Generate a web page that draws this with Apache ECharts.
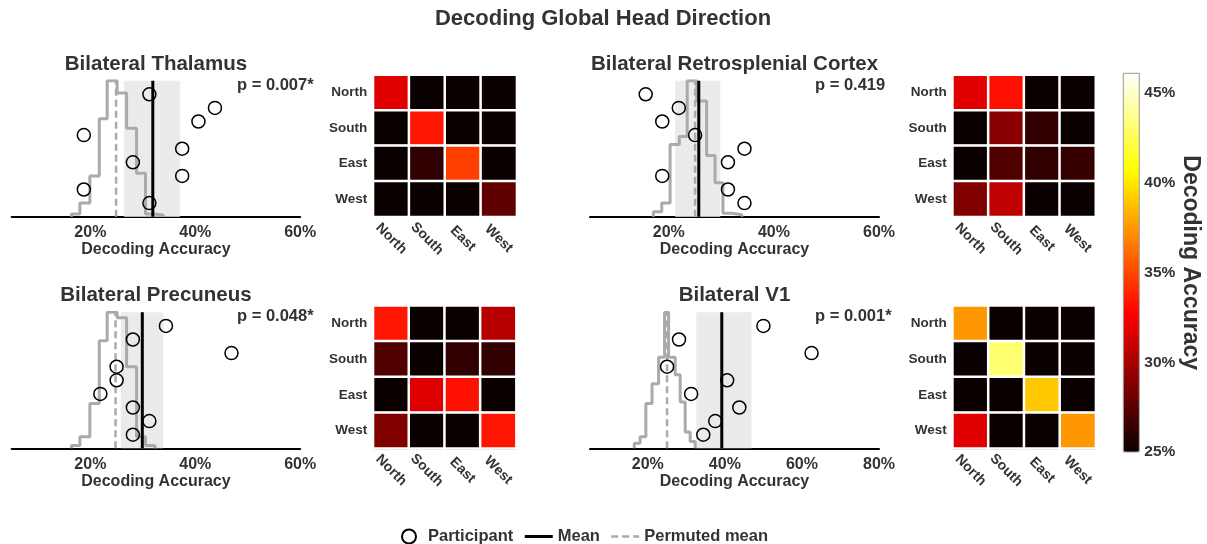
<!DOCTYPE html>
<html><head><meta charset="utf-8">
<script src="https://cdn.jsdelivr.net/npm/echarts@6/dist/echarts.min.js"></script>
<style>html,body{margin:0;padding:0;background:#fff}#c{width:1207px;height:544px}</style>
</head><body><div id="c"></div>
<script>
// ---------------- data ----------------
const mainTitle = 'Decoding Global Head Direction';
const directions = ['North', 'South', 'East', 'West'];
const panelTitles = ['Bilateral Thalamus', 'Bilateral Retrosplenial Cortex', 'Bilateral Precuneus', 'Bilateral V1'];
const pLabels = ['p = 0.007*', 'p = 0.419', 'p = 0.048*', 'p = 0.001*'];
const xTickValues = [20, 40, 60];
const xTickValuesV1 = [20, 40, 60, 80];
const colorbarTicks = [25, 30, 35, 40, 45];

// participant accuracies (%), listed top row to bottom row
const thalamusParticipants = [31.25, 43.75, 40.6, 18.75, 37.5, 28.1, 37.5, 18.75, 31.25];
const retrosplenialParticipants = [15.6, 21.9, 18.75, 25.0, 34.4, 31.25, 18.75, 31.25, 34.4];
const precuneusParticipants = [34.4, 28.1, 46.9, 25.0, 25.0, 21.9, 28.1, 31.25, 28.1];
const v1Participants = [50.0, 28.1, 62.5, 25.0, 40.6, 31.25, 43.75, 37.5, 34.4];

const meanAccuracy = [31.9, 25.7, 29.9, 39.2];
const permutedMean = [24.9, 25.0, 24.8, 25.0];
const intervalLow = [26.4, 21.2, 25.8, 32.6];
const intervalHigh = [37.1, 29.8, 33.9, 46.9];

// permutation histograms (bin edges in %, heights scaled so the tallest bin = 10)
const thalamusHistEdges = [16.4, 18.0, 19.9, 21.7, 23.2, 25.1, 26.9, 28.8, 30.5, 32.3, 33.9];
const thalamusHistHeights = [0.2, 1.0, 3.0, 7.2, 10, 9.1, 6.5, 3.2, 0.2, 0.1];
const retrosplenialHistEdges = [17.06, 18.66, 20.24, 22.0, 23.5, 25.3, 27.2, 28.8, 30.3, 32.0, 33.9];
const retrosplenialHistHeights = [0.37, 1.0, 5.3, 5.9, 10, 8.5, 4.5, 2.5, 0.25, 0.15];
const precuneusHistEdges = [16.4, 18.0, 19.9, 21.7, 23.2, 25.1, 26.9, 28.8, 30.5, 32.3];
const precuneusHistHeights = [0.2, 0.85, 3.3, 7.9, 10, 9.6, 6.0, 0.85, 0.2];
const v1HistEdges = [16.5, 18.0, 19.5, 21.1, 22.8, 24.35, 25.4, 27.1, 28.4, 29.7, 31.0, 32.3];
const v1HistHeights = [0.37, 0.85, 3.3, 4.75, 6.7, 10, 6.7, 5.4, 3.4, 1.2, 0.5];

// confusion matrices (rows = true direction, cols = decoded direction), accuracy %
const thalamusConfusion = [
  [31.7, 25.0, 25.0, 25.0],
  [25.0, 33.4, 25.0, 25.0],
  [25.0, 26.2, 34.7, 25.0],
  [25.0, 25.0, 25.0, 27.7]];
const retrosplenialConfusion = [
  [31.7, 33.2, 25.0, 25.0],
  [25.0, 29.0, 26.2, 25.0],
  [25.0, 27.2, 26.2, 26.4],
  [28.7, 30.7, 25.0, 25.0]];
const precuneusConfusion = [
  [33.4, 25.0, 25.0, 30.4],
  [27.2, 25.0, 26.2, 26.2],
  [25.0, 31.7, 33.2, 25.0],
  [28.7, 25.0, 25.0, 33.4]];
const v1Confusion = [
  [37.5, 25.0, 25.0, 25.0],
  [25.0, 43.1, 25.0, 25.0],
  [25.0, 25.0, 39.0, 25.0],
  [31.7, 25.0, 25.0, 37.5]];

const colorMin = 25, colorMax = 46.1;

// ---------------- build ----------------
const panels = [
  {pts: thalamusParticipants, edges: thalamusHistEdges, heights: thalamusHistHeights, conf: thalamusConfusion, max: 60, ticks: xTickValues},
  {pts: retrosplenialParticipants, edges: retrosplenialHistEdges, heights: retrosplenialHistHeights, conf: retrosplenialConfusion, max: 60, ticks: xTickValues},
  {pts: precuneusParticipants, edges: precuneusHistEdges, heights: precuneusHistHeights, conf: precuneusConfusion, max: 60, ticks: xTickValues},
  {pts: v1Participants, edges: v1HistEdges, heights: v1HistHeights, conf: v1Confusion, max: 80, ticks: xTickValuesV1}
];
const scatterBox = [
  {left: 11.7, top: 80.7, width: 288.5, height: 136},
  {left: 590, top: 80.7, width: 289, height: 136},
  {left: 11.7, top: 312.3, width: 288.5, height: 136},
  {left: 590, top: 312.3, width: 289, height: 136}];
const heatBox = [
  {left: 373.3, top: 75, width: 143.4, height: 141.7},
  {left: 952.7, top: 75, width: 142.8, height: 141.7},
  {left: 373.3, top: 305.7, width: 142.8, height: 142.6},
  {left: 952.7, top: 305.7, width: 143, height: 142.6}];
const titleTop = [54, 54, 285, 285];
const pTop = [77, 77, 308, 308];
const pLeft = [237, 815, 237, 815];

function hot(t) {
  const r = Math.min(1, 0.0416 + t * (1 - 0.0416) / 0.365);
  const g = Math.max(0, Math.min(1, (t - 0.365) / (0.746 - 0.365)));
  const b = Math.max(0, Math.min(1, (t - 0.746) / (1 - 0.746)));
  return 'rgb(' + Math.round(r * 255) + ',' + Math.round(g * 255) + ',' + Math.round(b * 255) + ')';
}
const hotColors = [];
for (let k = 0; k <= 60; k++) hotColors.push(hot(k / 60));

const FONT = 'Liberation Sans, Arial, Helvetica, sans-serif';
const TXT = '#333';
const grids = [], xAxes = [], yAxes = [], series = [], titles = [];

titles.push({text: mainTitle, left: 603, top: 8, textAlign: 'center', padding: 0,
  textStyle: {fontSize: 22, fontWeight: 'bold', color: TXT, fontFamily: FONT}});

panels.forEach((p, i) => {
  grids.push(Object.assign({}, scatterBox[i]));
  xAxes.push({gridIndex: i, type: 'value', min: 5, max: p.max,
    axisLine: {show: true, onZero: false, lineStyle: {color: '#000', width: 2}},
    axisTick: {show: false}, splitLine: {show: false},
    axisLabel: {customValues: p.ticks, formatter: '{value}%', fontSize: 16, fontWeight: 'bold', color: TXT, margin: 8, fontFamily: FONT},
    name: 'Decoding Accuracy', nameLocation: 'middle', nameGap: 24,
    nameTextStyle: {fontSize: 16, fontWeight: 'bold', color: TXT, fontFamily: FONT}});
  yAxes.push({gridIndex: i, type: 'value', min: 0, max: 10, show: false});

  // histogram outline
  const hist = [[p.edges[0], 0]];
  p.heights.forEach((h, k) => { hist.push([p.edges[k], h]); hist.push([p.edges[k + 1], h]); });
  hist.push([p.edges[p.edges.length - 1], 0]);
  series.push({type: 'line', name: 'hist' + i, xAxisIndex: i, yAxisIndex: i, data: hist, symbol: 'none', z: 2,
    lineStyle: {color: '#aaaaaa', width: 3}, silent: true,
    markArea: {silent: true, itemStyle: {color: '#ebebeb'}, data: [[{xAxis: intervalLow[i]}, {xAxis: intervalHigh[i]}]]}});
  series.push({type: 'line', name: 'Permuted mean', xAxisIndex: i, yAxisIndex: i, z: 3, silent: true,
    data: [[permutedMean[i], 0], [permutedMean[i], 10]], symbol: 'none',
    itemStyle: {color: '#aaaaaa'},
    lineStyle: {color: '#aaaaaa', width: 2.5, type: [7, 4]}});
  series.push({type: 'line', name: 'Mean', xAxisIndex: i, yAxisIndex: i, z: 4, silent: true,
    data: [[meanAccuracy[i], 0], [meanAccuracy[i], 10]], symbol: 'none',
    itemStyle: {color: '#000'},
    lineStyle: {color: '#000', width: 3}});
  series.push({type: 'scatter', name: 'Participant', xAxisIndex: i, yAxisIndex: i, z: 5, silent: true,
    data: p.pts.map((v, k) => [v, p.pts.length - k]), symbol: 'circle', symbolSize: 13,
    itemStyle: {color: 'rgba(255,255,255,0)', borderColor: '#000', borderWidth: 1.5, opacity: 1}});

  titles.push({text: panelTitles[i], left: scatterBox[i].left + scatterBox[i].width / 2, top: titleTop[i], textAlign: 'center', padding: 0,
    textStyle: {fontSize: 20.5, fontWeight: 'bold', color: TXT, fontFamily: FONT}});
  titles.push({text: pLabels[i], left: pLeft[i], top: pTop[i], padding: 0,
    textStyle: {fontSize: 16.5, fontWeight: 'bold', color: TXT, fontFamily: FONT}});
});

const heatIdx = [];
panels.forEach((p, i) => {
  const g = 4 + i;
  grids.push(Object.assign({}, heatBox[i]));
  xAxes.push({gridIndex: g, type: 'category', data: directions,
    axisLine: {show: true, lineStyle: {color: '#888', width: 1.5}}, axisTick: {show: false}, splitLine: {show: false},
    axisLabel: {rotate: -45, align: 'center', verticalAlign: 'middle', margin: 22, fontSize: 14, fontWeight: 'bold', color: TXT, fontFamily: FONT}});
  yAxes.push({gridIndex: g, type: 'category', data: directions, inverse: true,
    axisLine: {show: false}, axisTick: {show: false}, splitLine: {show: false},
    axisLabel: {fontSize: 13.5, fontWeight: 'bold', color: TXT, margin: 6, fontFamily: FONT}});
  const cells = [];
  p.conf.forEach((row, r) => row.forEach((v, c) => cells.push([c, r, v])));
  heatIdx.push(series.length);
  series.push({type: 'heatmap', name: 'conf' + i, xAxisIndex: g, yAxisIndex: g, data: cells, silent: true,
    itemStyle: {borderColor: '#fff', borderWidth: 2.5}, emphasis: {disabled: true}});
});

// colorbar axis
grids.push({left: 1123.3, top: 73.3, width: 16, height: 378.7, show: true, borderColor: '#999', borderWidth: 1, z: 10, backgroundColor: 'transparent'});
xAxes.push({gridIndex: 8, type: 'value', show: false, min: 0, max: 1});
yAxes.push({gridIndex: 8, type: 'value', min: colorMin, max: colorMax, position: 'right',
  axisLine: {show: false}, axisTick: {show: false}, splitLine: {show: false},
  axisLabel: {customValues: colorbarTicks, formatter: '{value}%', fontSize: 15.5, fontWeight: 'bold', color: TXT, margin: 5, fontFamily: FONT},
  name: 'Decoding Accuracy', nameLocation: 'middle', nameRotate: -90, nameGap: 38,
  nameTextStyle: {fontSize: 23, fontWeight: 'bold', color: TXT, fontFamily: FONT}});

const hideSym = {opacity: 0};
const option = {
  animation: false,
  backgroundColor: '#fff',
  textStyle: {fontFamily: FONT},
  title: titles,
  grid: grids,
  xAxis: xAxes,
  yAxis: yAxes,
  visualMap: {type: 'continuous', min: colorMin, max: colorMax, seriesIndex: heatIdx, inRange: {color: hotColors},
    left: 1123.3, top: 73.3, itemWidth: 16, itemHeight: 378.7, padding: 0, calculable: false, hoverLink: false, text: null, showLabel: false},
  legend: {data: [{name: 'Participant'}, {name: 'Mean', itemStyle: hideSym}, {name: 'Permuted mean', itemStyle: hideSym}],
    left: 396, top: 523, itemWidth: 28, itemHeight: 14, itemGap: 10,
    selectedMode: false, textStyle: {fontSize: 16.5, fontWeight: 'bold', color: TXT, fontFamily: FONT},
    lineStyle: {width: 'inherit'}},
  series: series
};
const chart = echarts.init(document.getElementById('c'), null, {renderer: 'canvas'});
chart.setOption(option);
</script></body></html>
